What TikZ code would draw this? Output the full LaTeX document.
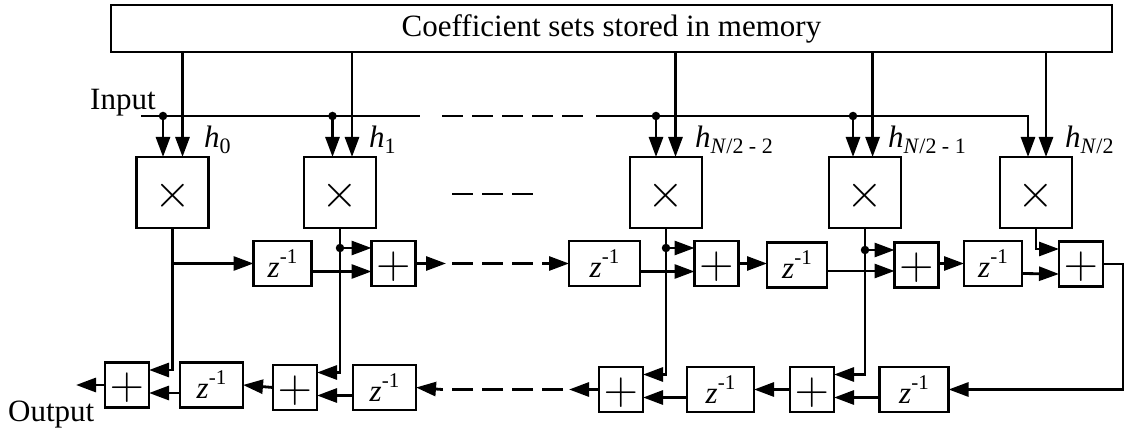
\documentclass[tikz,border=0pt]{standalone}
\usepackage{fontspec}
\usepackage{graphicx}
\setmainfont{Liberation Serif}
\usetikzlibrary{arrows.meta}
\newcommand{\zinv}{\textit{z}\raisebox{14pt}{\fontsize{21}{21}\selectfont -1}}
\newcommand{\coef}[1]{\textit{h}\raisebox{-6pt}{\fontsize{22}{22}\selectfont #1}}
\newcommand{\timesmark}{\raisebox{-3pt}[\height][\depth]{\scalebox{1.9}{$\times$}}}
\newcommand{\plusmark}{\raisebox{-3pt}[\height][\depth]{\scalebox{1.9}{$+$}}}
\tikzset{
    box/.style={draw,line width=2.8pt,inner sep=0pt,outer sep=0pt},
    mult/.style={box,minimum width=72pt,minimum height=71pt},
    sum/.style={box,minimum width=44pt,minimum height=45pt},
    delay/.style={box,minimum height=45pt},
    wire/.style={line width=2.8pt},
    sig/.style={wire,-{Triangle[length=20pt,width=14pt]}},
    gap/.style={wire,dash pattern=on 21pt off 9pt},
    dot/.style={circle,fill,inner sep=0pt,minimum size=8.5pt},
    txt/.style={inner sep=0pt,anchor=base west}
}
\begin{document}
\begin{tikzpicture}[x=1pt,y=-1pt,font=\fontsize{31}{34}\selectfont]
        \useasboundingbox (0,0) rectangle (1125,430);
        %% Memory
        \node[box,minimum width=1001pt,minimum height=47pt] (MEM) at (611.5,28.5) {Coefficient sets stored in memory};
        %% Multipliers
        \foreach \i/\xpos in {0/172.7,1/340,2/666,3/865,4/1036}
            \node[mult] (M\i) at (\xpos,192.5) {\timesmark};
        %% Upper row
        \node[delay,minimum width=58pt] (Z1) at (282.5,263.5) {\zinv};
        \node[sum] (P1) at (393.5,263.5) {\plusmark};
        \node[delay,minimum width=71pt] (Z2) at (604.5,263.5) {\zinv};
        \node[sum] (P2) at (716.5,263.5) {\plusmark};
        \node[delay,minimum width=60pt] (Z3) at (797,265) {\zinv};
        \node[sum] (P3) at (916.5,265) {\plusmark};
        \node[delay,minimum width=58pt] (Z4) at (993,263.5) {\zinv};
        \node[sum] (P4) at (1081,264) {\plusmark};
        %% Lower row
        \node[sum] (Q1) at (127,385) {\plusmark};
        \node[delay,minimum width=63pt] (Y1) at (211.5,385) {\zinv};
        \node[sum] (Q2) at (295,387.5) {\plusmark};
        \node[delay,minimum width=63pt] (Y2) at (384.5,387.5) {\zinv};
        \node[sum] (Q3) at (621,389.5) {\plusmark};
        \node[delay,minimum width=67pt] (Y3) at (720.5,389.5) {\zinv};
        \node[sum] (Q4) at (812,389.5) {\plusmark};
        \node[delay,minimum width=69pt] (Y4) at (914,389.5) {\zinv};
        %% Labels
        \node[txt] (IN) at (90,110) {Input};
        \node[txt] (OUT) at (8,421) {Output};
        \node[txt] (H0) at (204,148) {\coef{0}};
        \node[txt] (H1) at (369,148) {\coef{1}};
        \node[txt] (H2) at (695,148) {\coef{\textit{N}/2 - 2}};
        \node[txt] (H3) at (888,148) {\coef{\textit{N}/2 - 1}};
        \node[txt] (H4) at (1065,148) {\coef{\textit{N}/2}};
        %% Input bus
        \coordinate (B0) at (141,116);
        \coordinate (B1) at (420,116);
        \coordinate (B2) at (442,116);
        \coordinate (B3) at (585,116);
        \coordinate (B4) at (596,116);
        \node[dot] (D0) at (163,116) {};
        \node[dot] (D1) at (332.5,116) {};
        \node[dot] (D2) at (656,116) {};
        \node[dot] (D3) at (853,116) {};
        \draw[wire] (B0) -- (B1);
        \draw[gap] (B2) -- (B3);
        \draw[sig] (B4) -| (M4.north -| 1028,0);
        \foreach \i in {0,1,2,3}
            \draw[sig] (D\i.center) -- (M\i.north -| D\i);
        %% Coefficients
        \foreach \i/\xpos in {0/182.5,1/352,2/675.5,3/872.6,4/1046}
            \draw[sig] (MEM.south -| \xpos,0) -- (M\i.north -| \xpos,0);
        %% Middle dashes
        \coordinate (G0) at (452,194);
        \coordinate (G1) at (534,194);
        \draw[gap] (G0) -- (G1);
        %% Taps
        \node[dot] (T1) at (340,248) {};
        \node[dot] (T2) at (666,248) {};
        \node[dot] (T3) at (865,250) {};
        \draw[sig] (M0.south) |- ([yshift=15pt]Q1.east);
        \draw[sig] (M1.south) |- ([yshift=15pt]Q2.east);
        \draw[sig] (M2.south) |- ([yshift=15pt]Q3.east);
        \draw[sig] (M3.south) |- ([yshift=15pt]Q4.east);
        \draw[sig] (M4.south) |- ([yshift=15pt]P4.west);
        \draw[sig] (T1.center) -- (T1 -| P1.west);
        \draw[sig] (T2.center) -- (T2 -| P2.west);
        \draw[sig] (T3.center) -- (T3 -| P3.west);
        \draw[sig] (M0.south |- Z1.west) -- (Z1.west);
        %% Upper chain
        \draw[sig] ([yshift=-8pt]Z1.east) -- ([yshift=-8pt]P1.west);
        \draw[sig] ([yshift=-8pt]Z2.east) -- ([yshift=-8pt]P2.west);
        \draw[sig] ([yshift=-6pt]Z3.east) -- ([yshift=-6pt]P3.west);
        \draw[sig] ([yshift=-10pt]Z4.east) -- ([yshift=-10pt]P4.west);
        \coordinate (U0) at (446,263.5);
        \coordinate (U1) at (452,263.5);
        \coordinate (U2) at (545,263.5);
        \draw[sig] (P1.east) -- (U0);
        \draw[gap] (U1) -- (U2);
        \draw[sig] (U2) -- (Z2.west);
        \draw[sig] (P2.east) -- (Z3.west |- P2.east);
        \draw[sig] (P3.east |- Z4.west) -- (Z4.west);
        %% Return path
        \coordinate (R) at (1123,330);
        \draw[sig] (P4.east) -| (R) |- (Y4.east);
        %% Lower chain
        \draw[sig] ([yshift=-8pt]Y4.west) -- ([yshift=-8pt]Q4.east);
        \draw[sig] (Q4.west) -- (Y3.east);
        \draw[sig] ([yshift=-8pt]Y3.west) -- ([yshift=-8pt]Q3.east);
        \coordinate (L0) at (569,389.5);
        \coordinate (L1) at (563,389.5);
        \coordinate (L2) at (442,389.5);
        \draw[sig] (Q3.west) -- (L0);
        \draw[gap] (L1) -- (L2);
        \draw[sig] (L2) -- (Y2.east);
        \draw[sig] ([yshift=-8pt]Y2.west) -- ([yshift=-8pt]Q2.east);
        \draw[sig] (Q2.west) -- (Y1.east);
        \draw[sig] ([yshift=-8pt]Y1.west) -- ([yshift=-8pt]Q1.east);
        \coordinate (X) at (76,385);
        \draw[sig] (Q1.west) -- (X);
    \end{tikzpicture}
\end{document}
